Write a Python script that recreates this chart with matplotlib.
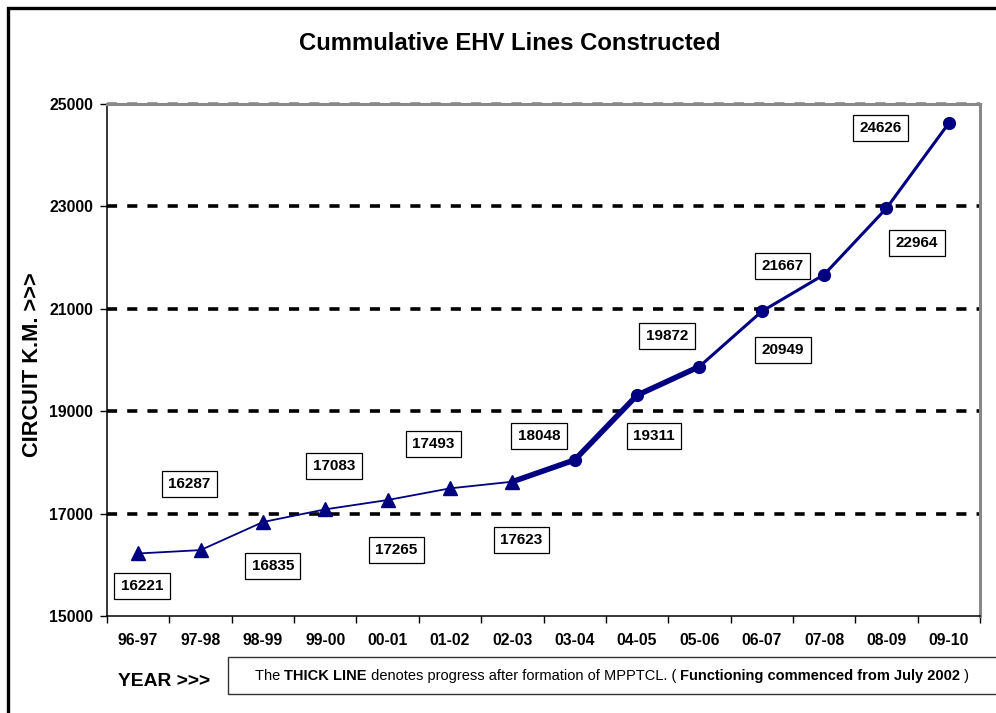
import matplotlib
matplotlib.use("Agg")
import matplotlib.pyplot as plt
from matplotlib.patches import Rectangle
from matplotlib.ticker import FixedLocator, NullFormatter

plt.rcParams['font.family'] = ['Liberation Sans', 'DejaVu Sans']

years = ['96-97', '97-98', '98-99', '99-00', '00-01', '01-02', '02-03',
         '03-04', '04-05', '05-06', '06-07', '07-08', '08-09', '09-10']
values = [16221, 16287, 16835, 17083, 17265, 17493, 17623,
          18048, 19311, 19872, 20949, 21667, 22964, 24626]

# segments of the series (index ranges)
pre_idx = list(range(0, 7))      # before MPPTCL (thin, triangles)
thick_idx = list(range(6, 10))   # thick line
post_idx = list(range(7, 14))    # after (circles)

# label placements (data coords) - layout only
label_pos = [(0.06, 15586), (0.82, 17578), (2.16, 15977), (3.14, 17930),
             (4.14, 16289), (4.73, 18359), (6.14, 16484), (6.43, 18516),
             (8.27, 18516), (8.48, 20469), (10.34, 20195), (10.34, 21836),
             (12.49, 22285), (11.90, 24531)]

W, H = 996, 713
fig = plt.figure(figsize=(W / 100, H / 100), dpi=100)
ax = fig.add_axes([107 / W, 1 - 616 / H, (980 - 107) / W, (616 - 104) / H])

navy = '#000080'
x = list(range(len(years)))

# gridlines
for gy in [17000, 19000, 21000, 23000]:
    ax.axhline(gy, color='black', lw=2.6, ls=(0, (2.8, 2.8)), zorder=1)
ax.axhline(25000, color='#888888', lw=2.6, ls=(0, (2.8, 2.8)), zorder=1, clip_on=False)

ax.plot([x[i] for i in pre_idx], [values[i] for i in pre_idx], color=navy,
        lw=1.3, marker='^', ms=9.5, zorder=3)
ax.plot([x[i] for i in thick_idx], [values[i] for i in thick_idx], color=navy,
        lw=4.0, zorder=3)
ax.plot([x[i] for i in post_idx], [values[i] for i in post_idx], color=navy,
        lw=2.2, marker='o', ms=8.5, zorder=4)

for v, (lx, ly) in zip(values, label_pos):
    ax.text(lx, ly, str(v), ha='center', va='center', fontsize=11,
            fontweight='bold', zorder=5,
            bbox=dict(boxstyle='square,pad=0.42', fc='white', ec='black', lw=0.9))

ax.set_xlim(-0.5, len(years) - 0.5)
ax.set_ylim(15000, 25000)
ax.set_yticks([15000, 17000, 19000, 21000, 23000, 25000])
ax.set_yticklabels(['15000', '17000', '19000', '21000', '23000', '25000'],
                   fontsize=11.3, fontweight='bold')
ax.xaxis.set_major_locator(FixedLocator([i - 0.5 for i in range(len(years) + 1)]))
ax.xaxis.set_major_formatter(NullFormatter())
ax.xaxis.set_minor_locator(FixedLocator(x))
ax.set_xticklabels(years, minor=True, fontsize=11.3, fontweight='bold')
ax.tick_params(axis='x', which='major', length=5, width=1, direction='out')
ax.tick_params(axis='x', which='minor', length=0, pad=12)
ax.tick_params(axis='y', length=5, width=1, direction='out', pad=5)

for s in ['left', 'bottom']:
    ax.spines[s].set_color('black')
    ax.spines[s].set_linewidth(1.1)
for s in ['top', 'right']:
    ax.spines[s].set_color('#888888')
    ax.spines[s].set_linewidth(2.2)

fig.text(510 / W, 1 - 44 / H, 'Cummulative EHV Lines Constructed', ha='center',
         va='center', fontsize=17.2, fontweight='bold')
fig.text(33 / W, 1 - 365 / H, 'CIRCUIT K.M. >>>', rotation=90, ha='center',
         va='center', fontsize=15.7, fontweight='bold')
fig.text(164 / W, 1 - 681 / H, 'YEAR >>>', ha='center', va='center',
         fontsize=13.9, fontweight='bold')

# outer frame
fig.patches.append(Rectangle((8 / W, -0.5), 2, 0.5 + 1 - 8 / H, transform=fig.transFigure,
                             fill=False, ec='black', lw=2.4))
# note box
fig.patches.append(Rectangle((228 / W, 1 - 694 / H), 2, 37 / H, transform=fig.transFigure,
                             fill=False, ec='#333333', lw=1))

parts = [('The ', 'normal'), ('THICK LINE', 'bold'),
         (' denotes progress after formation of MPPTCL. ( ', 'normal'),
         ('Functioning commenced from July 2002', 'bold'), (' )', 'normal')]
note_fs = 10.5
prev = fig.text(255 / W, 1 - 683 / H, parts[0][0], ha='left', va='bottom',
                fontsize=note_fs, fontweight=parts[0][1])
for txt, wt in parts[1:]:
    prev = fig.add_artist(matplotlib.text.Annotation(
        txt, xy=(1, 0), xycoords=prev, ha='left', va='bottom',
        fontsize=note_fs, fontweight=wt))

fig.savefig('out.png', dpi=100)
